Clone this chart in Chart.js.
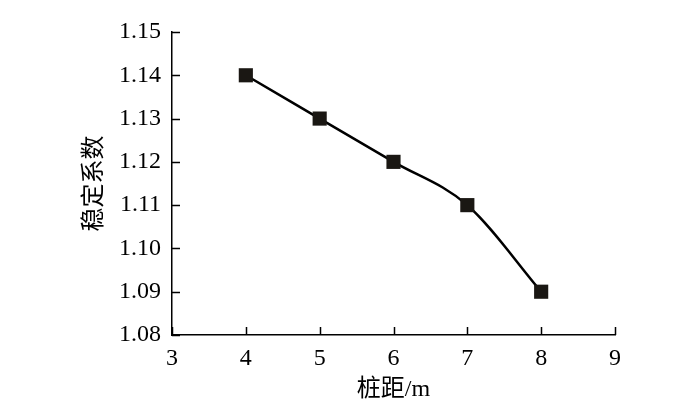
<!DOCTYPE html>
<html>
<head>
<meta charset="utf-8">
<script src="https://cdn.jsdelivr.net/npm/chart.js@4"></script>
<style>
  html, body { margin: 0; padding: 0; background: #fff; }
  #wrap { width: 700px; height: 420px; }
</style>
</head>
<body>
<div id="wrap"><canvas id="chart" width="700" height="420"></canvas></div>
<script>
// pile spacing (m) vs stability coefficient
const spacing = [4, 5, 6, 7, 8];
const stability = [1.14, 1.13, 1.12, 1.11, 1.09];
const xTicks = [3, 4, 5, 6, 7, 8, 9];
const yTicks = [1.08, 1.09, 1.10, 1.11, 1.12, 1.13, 1.14, 1.15];

const fontFamily = '"Liberation Serif", "Times New Roman", "Noto Sans CJK SC", serif';

// ticks point into the plot area, so draw them by hand from the scales
const innerTicks = {
    id: 'innerTicks',
    afterDraw(chart) {
        const ctx = chart.ctx;
        const xs = chart.scales.x, ys = chart.scales.y;
        const area = chart.chartArea;
        ctx.save();
        ctx.strokeStyle = '#000';
        ctx.lineWidth = 1.5;
        ctx.beginPath();
        xTicks.forEach(v => {
            const px = Math.round(xs.getPixelForValue(v)) + 0.5;
            ctx.moveTo(px, area.bottom);
            ctx.lineTo(px, area.bottom - 8);
        });
        yTicks.forEach(v => {
            const py = Math.round(ys.getPixelForValue(v)) + 0.5;
            ctx.moveTo(area.left, py);
            ctx.lineTo(area.left + 8, py);
        });
        ctx.stroke();
        ctx.restore();
    }
};

new Chart(document.getElementById('chart').getContext('2d'), {
    type: 'line',
    data: {
        datasets: [{
            data: spacing.map((x, i) => ({ x: x, y: stability[i] })),
            borderColor: '#000',
            borderWidth: 2.5,
            backgroundColor: '#1a1a1a',
            pointStyle: 'rect',
            pointRadius: 10,
            pointBorderWidth: 0,
            pointBackgroundColor: '#1a1713',
            cubicInterpolationMode: 'monotone',
            fill: false
        }]
    },
    options: {
        responsive: false,
        animation: false,
        layout: { padding: { left: 80, right: 85, top: 32, bottom: 10 } },
        plugins: { legend: { display: false }, tooltip: { enabled: false } },
        scales: {
            x: {
                type: 'linear',
                min: 3, max: 9,
                afterBuildTicks: s => { s.ticks = xTicks.map(v => ({ value: v })); },
                afterFit: s => { s.height = 420 - 335 - 10; },
                grid: { display: false },
                border: { display: true, color: '#000', width: 1.5 },
                ticks: { color: '#000', padding: 1, font: { family: fontFamily, size: 24 } },
                title: {
                    display: true, text: '桩距/m', color: '#000',
                    padding: { top: 0, bottom: 6 },
                    font: { family: fontFamily, size: 24 }
                }
            },
            y: {
                type: 'linear',
                min: 1.08, max: 1.15,
                afterBuildTicks: s => { s.ticks = yTicks.map(v => ({ value: v })); },
                afterFit: s => { s.width = 172 - 80; },
                grid: { display: false },
                border: { display: true, color: '#000', width: 1.5 },
                ticks: {
                    color: '#000', padding: 3,
                    font: { family: fontFamily, size: 24 },
                    callback: v => v.toFixed(2)
                },
                title: {
                    display: true, text: '稳定系数', color: '#000',
                    padding: { top: 0, bottom: 0 },
                    font: { family: fontFamily, size: 24 }
                }
            }
        }
    },
    plugins: [innerTicks]
});
</script>
</body>
</html>
